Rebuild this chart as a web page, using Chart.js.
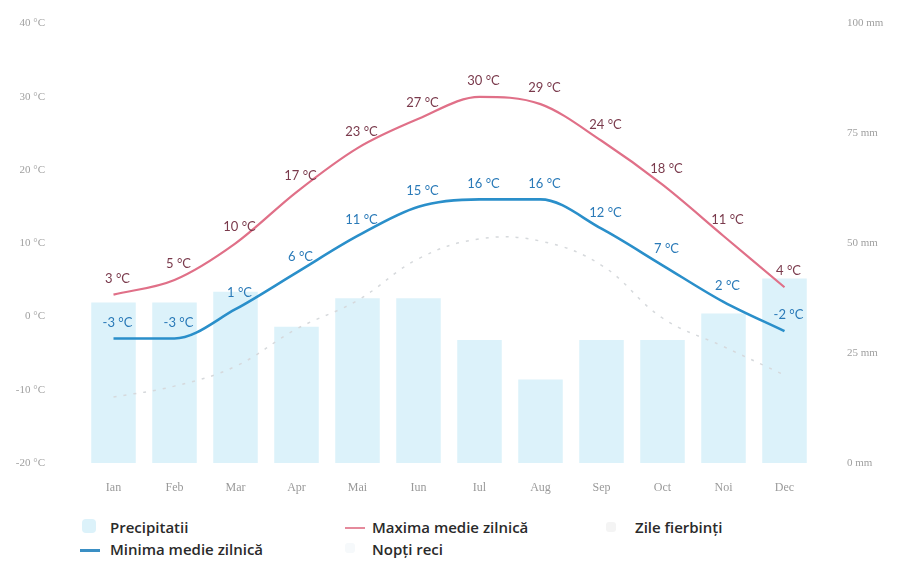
<!DOCTYPE html>
<html>
<head>
<meta charset="utf-8">
<script src="https://cdn.jsdelivr.net/npm/chart.js@4.4.0/dist/chart.umd.min.js"></script>
<style>
  body { margin: 0; background: #fff; width: 908px; height: 562px; overflow: hidden; font-family: "Open Sans", sans-serif; }
  #wrap { position: absolute; left: 0; top: -13px; width: 908px; height: 518px; }
  .leg { position: absolute; font-size: 15px; font-weight: 600; color: #2a2a2a; line-height: 18px; white-space: nowrap; }
  .mk { position: absolute; }
</style>
</head>
<body>
<div id="wrap"><canvas id="clima"></canvas></div>

<div class="mk" style="left:82px;top:519px;width:14px;height:14px;border-radius:4px;background:#dcf2fa;"></div>
<div class="leg" style="left:110px;top:518px;">Precipitatii</div>
<div class="mk" style="left:345px;top:527px;width:20px;height:2px;background:#e58a9c;"></div>
<div class="leg" style="left:372px;top:518px;">Maxima medie zilnică</div>
<div class="mk" style="left:606px;top:522px;width:10px;height:10px;border-radius:3px;background:#f4f4f4;"></div>
<div class="leg" style="left:635px;top:518px;">Zile fierbinți</div>
<div class="mk" style="left:80px;top:549px;width:20px;height:3px;background:#3a8fc4;"></div>
<div class="leg" style="left:110px;top:540px;">Minima medie zilnică</div>
<div class="mk" style="left:345px;top:543px;width:10px;height:10px;border-radius:3px;background:#f6f9fb;"></div>
<div class="leg" style="left:372px;top:540px;">Nopți reci</div>

<script>
var luni = ['Ian', 'Feb', 'Mar', 'Apr', 'Mai', 'Iun', 'Iul', 'Aug', 'Sep', 'Oct', 'Noi', 'Dec'];
var precipitatii = [36.5, 36.5, 39, 31, 37.5, 37.5, 28, 19, 28, 28, 34, 42];
var maxima = [3, 5, 10, 17, 23, 27, 30, 29, 24, 18, 11, 4];
var minima = [-3, -3, 1, 6, 11, 15, 16, 16, 12, 7, 2, -2];
var zileFierbinti = [15, 17.5, 22, 30.5, 37, 46.5, 51, 50.5, 45, 33, 26.5, 20];

// eticheta "x °C" deasupra fiecarui punct
var eticheteTemp = {
    id: 'eticheteTemp',
    afterDatasetsDraw: function(chart) {
        var ctx = chart.ctx;
        [1, 2].forEach(function(i) {
            var ds = chart.data.datasets[i];
            var meta = chart.getDatasetMeta(i);
            ctx.save();
            ctx.font = '13px Lato, sans-serif';
            ctx.fillStyle = ds.labelColor;
            ctx.textAlign = 'center';
            ctx.textBaseline = 'middle';
            meta.data.forEach(function(pt, j) {
                ctx.fillText(ds.data[j] + ' °C', pt.x + 4, pt.y - 16);
            });
            ctx.restore();
        });
    }
};

var ctx = document.getElementById('clima').getContext('2d');
new Chart(ctx, {
    type: 'bar',
    data: {
        labels: luni,
        datasets: [
            {
                type: 'bar',
                label: 'Precipitatii',
                data: precipitatii,
                yAxisID: 'y1',
                backgroundColor: '#dcf2fa',
                barPercentage: 0.73,
                categoryPercentage: 1,
                order: 4
            },
            {
                type: 'line',
                label: 'Maxima medie zilnică',
                data: maxima,
                yAxisID: 'y',
                borderColor: '#e07088',
                labelColor: '#7a3a4c',
                borderWidth: 2.2,
                pointRadius: 0,
                cubicInterpolationMode: 'monotone',
                fill: false,
                order: 1
            },
            {
                type: 'line',
                label: 'Minima medie zilnică',
                data: minima,
                yAxisID: 'y',
                borderColor: '#2a8fca',
                labelColor: '#2a7ab8',
                borderWidth: 2.6,
                pointRadius: 0,
                cubicInterpolationMode: 'monotone',
                fill: false,
                order: 2
            },
            {
                type: 'line',
                label: 'Zile fierbinți',
                data: zileFierbinti,
                yAxisID: 'y1',
                borderColor: '#d6d9dc',
                borderDash: [3, 7],
                borderWidth: 1.5,
                pointRadius: 0,
                tension: 0.4,
                fill: false,
                order: 3
            }
        ]
    },
    options: {
        responsive: true,
        maintainAspectRatio: false,
        animation: false,
        layout: { padding: { top: 4, left: 0, right: 0, bottom: 0 } },
        plugins: {
            legend: { display: false },
            tooltip: { enabled: false }
        },
        scales: {
            x: {
                grid: { display: false },
                border: { display: false },
                ticks: { color: '#9a9a9a', font: { family: 'Liberation Serif', size: 12 }, padding: 10 },
                afterFit: function(s) { s.height = 42; }
            },
            y: {
                position: 'left',
                min: -20,
                max: 40,
                grid: { display: false },
                border: { display: false },
                ticks: {
                    stepSize: 10,
                    color: '#a0a0a0',
                    font: { family: 'Liberation Serif', size: 11 },
                    padding: 30,
                    callback: function(v) { return v + ' °C'; }
                },
                afterFit: function(s) { s.width = 83; }
            },
            y1: {
                position: 'right',
                min: 0,
                max: 100,
                grid: { display: false },
                border: { display: false },
                ticks: {
                    stepSize: 25,
                    color: '#a0a0a0',
                    font: { family: 'Liberation Serif', size: 11 },
                    padding: 24,
                    callback: function(v) { return v + ' mm'; }
                },
                afterFit: function(s) { s.width = 93; }
            }
        }
    },
    plugins: [eticheteTemp]
});
</script>
</body>
</html>
